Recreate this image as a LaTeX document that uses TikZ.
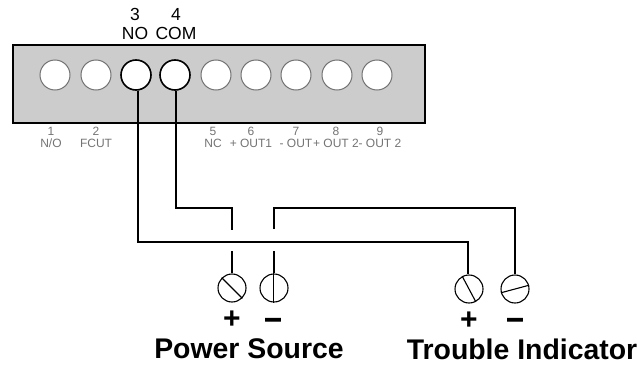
\documentclass[tikz,border=0pt]{standalone}
\usepackage{fontspec}
\setmainfont{Liberation Sans}
\begin{document}
\begin{tikzpicture}[x=1pt,y=-1pt,
	hole_node/.style={circle,fill=white,draw=black!55,line width=1pt,minimum size=30pt,inner sep=0pt},
	used_node/.style={hole_node,draw=black,line width=1.6pt},
	screw_node/.style={circle,draw,line width=1.1pt,minimum size=28pt,inner sep=0pt},
	wire/.style={line width=1.7pt},
	small_label/.style={text=black!55,font=\fontsize{12}{12}\selectfont,align=center,inner sep=0pt},
	top_label/.style={font=\fontsize{17.5}{19}\selectfont,align=center,inner sep=0pt},
	sign_label/.style={font=\bfseries\fontsize{30}{30}\selectfont,inner sep=0pt},
	minus_label/.style={font=\bfseries\fontsize{30}{30}\selectfont\addfontfeature{FakeBold=2.5},inner sep=0pt},
	title_label/.style={font=\bfseries\fontsize{28.4}{28.4}\selectfont,inner sep=0pt}]
		\useasboundingbox (0,0) rectangle (637,364);
		
		\node[draw,line width=2pt,fill=black!20,minimum width=412pt,minimum height=78pt,inner sep=0pt] (panel) at (219,84) {};
		
		\node[hole_node] (h1) at (55,75) {};
		\node[hole_node] (h2) at (96,75) {};
		\node[used_node] (h3) at (136,75) {};
		\node[used_node] (h4) at (175,75) {};
		\node[hole_node] (h5) at (216,75) {};
		\node[hole_node] (h6) at (256,75) {};
		\node[hole_node] (h7) at (296,75) {};
		\node[hole_node] (h8) at (337,75) {};
		\node[hole_node] (h9) at (377,75) {};
		
		\node[top_label] (n3) at (135,24) {3\\NO};
		\node[top_label] (n4) at (176,24) {4\\COM};
		
		\node[small_label] (l1) at (51,137) {1\\N/O};
		\node[small_label] (l2) at (96,137) {2\\FCUT};
		\node[small_label] (l5) at (213,137) {5\\NC};
		\node[small_label] (l6) at (251,137) {6\\+ OUT1};
		\node[small_label] (l7) at (296,137) {7\\- OUT};
		\node[small_label] (l8) at (336,137) {8\\+ OUT 2};
		\node[small_label] (l9) at (380,137) {9\\- OUT 2};
		
		\node[screw_node] (s1) at (232,288) {};
		\node[screw_node] (s2) at (274,288) {};
		\node[screw_node] (s3) at (469,289) {};
		\node[screw_node] (s4) at (515,289) {};
		\draw[line width=1.1pt] (s1.135) -- (s1.-45);
		\draw[line width=1.1pt] (s2.92) -- (s2.-92);
		\draw[line width=1.1pt] (s3.118) -- (s3.-62);
		\draw[line width=1.1pt] (s4.195) -- (s4.15);
		
		\coordinate (g1) at (232,230);
		\coordinate (g2) at (274,229);
		\coordinate (g3) at (232,251);
		\coordinate (g4) at (274,251);
		\coordinate (c1) at (138,242);
		\coordinate (c2) at (468,242);
		\coordinate (c3) at (176,208);
		\coordinate (c4) at (232,208);
		\coordinate (c5) at (274,208);
		\coordinate (c6) at (515,208);
		
		\draw[wire] (h3.south -| c1) -- (c1) -- (c2) -- (c2 |- s3.north);
		\draw[wire] (h4.south -| c3) -- (c3) -- (c4) -- (g1);
		\draw[wire] (g2) -- (c5) -- (c6) -- (s4.north);
		\draw[wire] (g3) -- (s1.north);
		\draw[wire] (g4) -- (s2.north);
		
		\node[sign_label] (p1) at (232,320) {+};
		\node[minus_label] (m1) at (273,323) {--};
		\node[sign_label] (p2) at (469,321) {+};
		\node[minus_label] (m2) at (515,323) {--};
		
		\node[title_label] (t1) at (249,349) {Power Source};
		\node[title_label] (t2) at (522,349) {Trouble Indicator};
\end{tikzpicture}
\end{document}
